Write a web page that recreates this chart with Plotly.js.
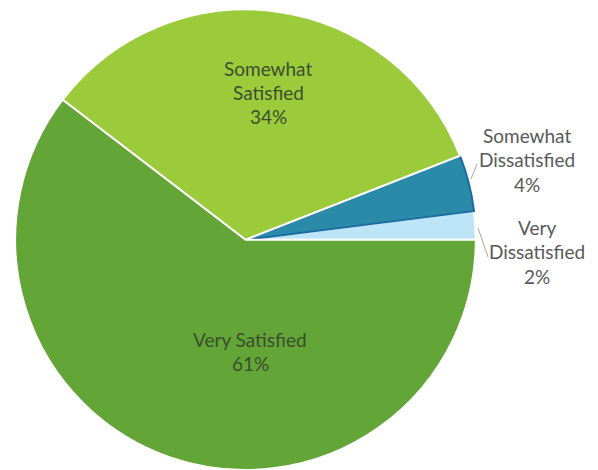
<!DOCTYPE html>
<html>
<head>
<meta charset="utf-8">
<script src="https://cdn.plot.ly/plotly-3.0.1.min.js"></script>
<style>html,body{margin:0;padding:0;background:#fff;}#chart{width:598px;height:470px;}</style>
</head>
<body>
<div id="chart"></div>
<script>
// Data
var categories = ['Very Dissatisfied', 'Somewhat Dissatisfied', 'Somewhat Satisfied', 'Very Satisfied'];
var labelLines = [['Very', 'Dissatisfied'], ['Somewhat', 'Dissatisfied'], ['Somewhat', 'Satisfied'], ['Very Satisfied']];
var percents = [2, 4, 34, 61];

// Styles
var sliceColors = ['#BDE5F8', '#2A8AA8', '#9BCB3B', '#63A537'];
var sliceLines = ['#FFFFFF', '#1B6CA2', '#FFFFFF', '#FFFFFF'];
var textColors = ['#595959', '#595959', '#3B4E2F', '#3B4E2F'];
// label block anchor (pixel, first-line center) per category
var labelPos = [[537, 227], [527, 135], [268, 68], [250, 339]];
var lineGap = 24.5;
var W = 598, H = 470;

var annotations = [];
categories.forEach(function (c, i) {
  var lines = labelLines[i].concat([percents[i] + '%']);
  lines.forEach(function (t, k) {
    annotations.push({
      xref: 'paper', yref: 'paper',
      x: labelPos[i][0] / W, y: 1 - (labelPos[i][1] + k * lineGap) / H,
      xanchor: 'center', yanchor: 'middle',
      text: t, showarrow: false,
      font: {family: 'Lato, "Open Sans", sans-serif', size: 19, color: textColors[i]}
    });
  });
});

var leaders = [[[478, 228], [488, 257]], [[471, 179], [477, 164]]];
var shapes = leaders.map(function (l) {
  return {type: 'line', xref: 'paper', yref: 'paper',
    x0: l[0][0] / W, y0: 1 - l[0][1] / H, x1: l[1][0] / W, y1: 1 - l[1][1] / H,
    line: {color: '#A6A6A6', width: 1}};
});

var total = percents.reduce(function (a, b) { return a + b; }, 0);
var firstSliceDeg = 360 * percents[0] / total;

var trace = {
  type: 'pie',
  labels: categories,
  values: percents,
  sort: false,
  direction: 'counterclockwise',
  rotation: 90 - firstSliceDeg,
  textinfo: 'none',
  hoverinfo: 'label+percent',
  marker: {colors: sliceColors, line: {color: sliceLines, width: 2}},
  domain: {x: [15 / W, 476 / W], y: [0, 0.98]},
  showlegend: false
};

var layout = {
  width: W, height: H,
  margin: {l: 0, r: 0, t: 0, b: 0},
  paper_bgcolor: '#FFFFFF',
  showlegend: false,
  annotations: annotations,
  shapes: shapes
};

Plotly.newPlot('chart', [trace], layout, {displayModeBar: false, staticPlot: true});
</script>
</body>
</html>
